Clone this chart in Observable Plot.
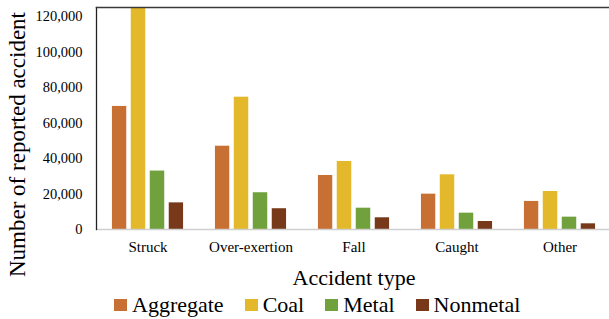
<!DOCTYPE html>
<html>
<head>
<meta charset="utf-8">
<script src="https://cdn.jsdelivr.net/npm/d3@7"></script>
<script src="https://cdn.jsdelivr.net/npm/@observablehq/plot@0.6"></script>
<style>
  html, body { margin: 0; padding: 0; background: #fff; }
  #chart { width: 609px; height: 319px; position: relative; overflow: hidden; font-family: "Liberation Serif", "Times New Roman", serif; }
  #plots { position: relative; width: 609px; height: 290px; }
  #plots svg { position: absolute; left: 0; top: 0; }
  #legend { display: flex; align-items: center; height: 29px; padding-left: 114px; font-family: "Liberation Serif", "Times New Roman", serif; font-size: 22px; color: #000; }
  #legend .item { display: flex; align-items: center; margin-right: 21px; }
  #legend .sw { display: inline-block; width: 13px; height: 12px; margin-right: 5px; }
</style>
</head>
<body>
<div id="chart"><div id="plots"></div></div>
<script>
const categories = ["Struck", "Over-exertion", "Fall", "Caught", "Other"];
const series = ["Aggregate", "Coal", "Metal", "Nonmetal"];
const aggregate = [69300, 46900, 30400, 19900, 15800];
const coal = [125000, 74500, 38300, 30800, 21400];
const metal = [32900, 20700, 12000, 9200, 6950];
const nonmetal = [15000, 11700, 6600, 4500, 3200];
const colors = ["#C86F33", "#E3B82A", "#70A13D", "#77391A"];
const yTicks = [0, 20000, 40000, 60000, 80000, 100000, 120000];
const yTitle = "Number of reported accident";
const xTitle = "Accident type";

const valuesBySeries = [aggregate, coal, metal, nonmetal];
const rows = [];
categories.forEach((c, i) => {
  series.forEach((s, j) => rows.push({category: c, series: s, value: valuesBySeries[j][i]}));
});

const font = "'Liberation Serif', 'Times New Roman', serif";
const common = {
  width: 609,
  height: 290,
  marginLeft: 96,
  marginRight: -2,
  marginTop: 7,
  marginBottom: 61,
  y: {domain: [0, 125000], axis: null}
};

// Layer 1: grouped bars (faceted by category) and category labels
const bars = Plot.plot({
  ...common,
  style: {fontFamily: font, background: "#fff", color: "#000", overflow: "visible"},
  fx: {domain: categories, paddingInner: 0.306, paddingOuter: 0.153, round: false, label: null},
  x: {domain: series, paddingInner: 0.237, paddingOuter: 0, round: false, axis: null},
  color: {domain: series, range: colors},
  marks: [
    Plot.barY(rows, {fx: "category", x: "series", y: "value", fill: "series", inset: 0, clip: true}),
    Plot.axisFx({anchor: "bottom", tickSize: 0, tickPadding: 12, fontSize: "15px", label: null})
  ]
});

// Layer 2: frame lines, value axis and titles across the whole plot area
const overlay = Plot.plot({
  ...common,
  style: {fontFamily: font, background: "transparent", color: "#000", overflow: "visible"},
  marks: [
    Plot.frame({anchor: "bottom", stroke: "#cfcfcf", strokeWidth: 1.3}),
    Plot.frame({anchor: "left", stroke: "#222", strokeWidth: 1.3}),
    Plot.frame({anchor: "top", stroke: "#3a3a3a", strokeWidth: 1.6}),
    Plot.axisY({ticks: yTicks, tickSize: 0, tickPadding: 14, tickFormat: d3.format(","), fontSize: "14.5px", label: null}),
    Plot.text([yTitle], {frameAnchor: "left", text: d => d, rotate: -90, textAnchor: "middle", lineAnchor: "middle", dx: -78.5, dy: 26, fontSize: 23, fill: "#000"}),
    Plot.text([xTitle], {frameAnchor: "bottom", text: d => d, lineAnchor: "middle", dy: 48, fontSize: 22, fill: "#000"})
  ]
});

const plots = document.getElementById("plots");
plots.appendChild(bars);
plots.appendChild(overlay);

const legend = document.createElement("div");
legend.id = "legend";
series.forEach((s, i) => {
  const item = document.createElement("div");
  item.className = "item";
  const sw = document.createElement("span");
  sw.className = "sw";
  sw.style.background = colors[i];
  const t = document.createElement("span");
  t.textContent = s;
  item.appendChild(sw);
  item.appendChild(t);
  legend.appendChild(item);
});
document.getElementById("chart").appendChild(legend);
</script>
</body>
</html>
